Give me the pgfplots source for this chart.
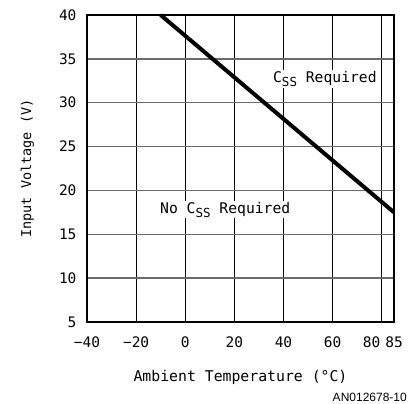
\documentclass[border=0pt]{standalone}
\usepackage{pgfplots}
\pgfplotsset{compat=1.18}
\usepackage{fontspec}
\setmainfont{DejaVu Sans Mono}
\newfontfamily\arialfont{Liberation Sans}

\begin{document}
\begin{tikzpicture}
\begin{axis}[
  scale only axis,
  width=307pt, height=307pt,
  xmin=-40, xmax=85, ymin=5, ymax=40,
  xtick={-40,-20,0,20,40,60,80,85},
  xticklabels={−40,−20,0,20,40,60,\hspace{-20pt}80,85\hspace{-12pt}},
  ytick={5,10,...,40},
  major tick length=0pt,
  grid=major,
  x grid style={black, line width=1pt},
  y grid style={black!58, line width=1.3pt},
  axis line style={black, line width=1.5pt},
  tick label style={font=\fontsize{14.5}{17}\selectfont},
  /pgf/number format/assume math mode=true,
  xticklabel style={yshift=-11pt},
  yticklabel style={xshift=-7pt},
  xlabel={Ambient Temperature (°C)},
  ylabel={Input Voltage (V)},
  every axis x label/.style={at={(axis description cs:0.5,0)}, anchor=center,
    yshift=-55pt, font=\fontsize{14.8}{17}\selectfont},
  every axis y label/.style={at={([xshift=-59.5pt]axis description cs:0,0.5)}, anchor=center,
    rotate=90, font=\fontsize{13.5}{16}\selectfont},
  clip=false,
]
\addplot[black, line width=4pt] coordinates {(-10,40) (85,17.5)};

\node[fill=white, inner sep=1pt, anchor=west, font=\fontsize{14.7}{17}\selectfont]
  at (axis cs:35.3,32.7) {C\raisebox{-4pt}{\fontsize{12.5}{13}\selectfont SS} Required};
\node[fill=white, inner sep=1pt, anchor=west, font=\fontsize{14.7}{17}\selectfont]
  at (axis cs:-10.7,17.8) {No C\raisebox{-4pt}{\fontsize{12.5}{13}\selectfont SS} Required};

\node[anchor=east, inner sep=0pt, font=\arialfont\fontsize{12}{12}\selectfont]
  at ([shift={(13pt,-75pt)}]rel axis cs:1,0) {AN012678-10};

\path ([shift={(-87pt,-82pt)}]rel axis cs:0,0) rectangle ([shift={(20pt,15pt)}]rel axis cs:1,1);
\end{axis}
\end{tikzpicture}
\end{document}
